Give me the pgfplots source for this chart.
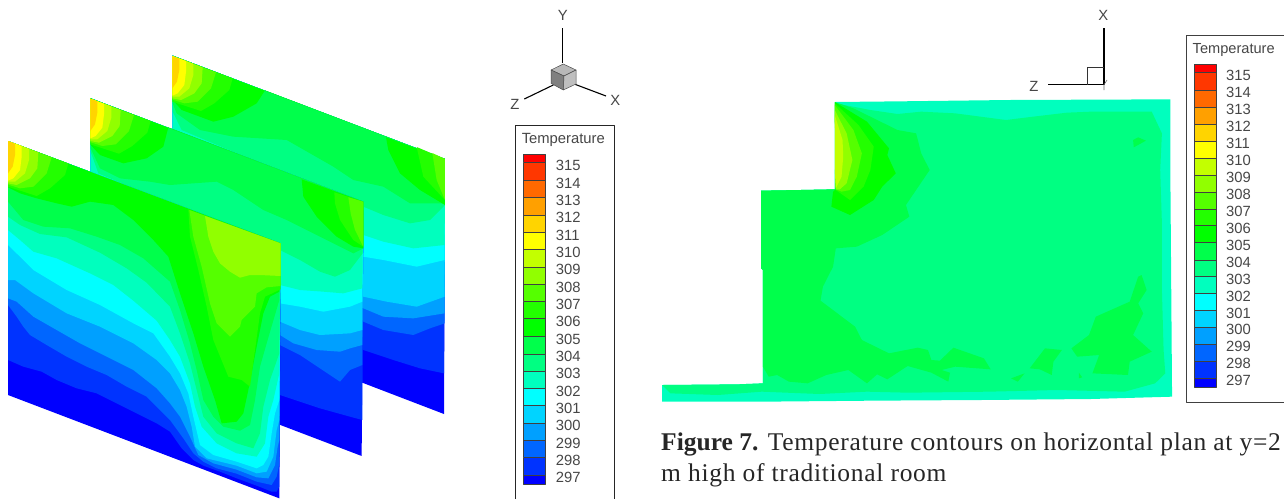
\documentclass[border=0pt]{standalone}
\usepackage{fontspec}
\usepackage{pgfplots}
\pgfplotsset{compat=1.18}
\setmainfont{Liberation Sans}
\newfontfamily\capfont[LetterSpace=2.75]{Liberation Serif}
\newfontfamily\capb{Liberation Serif}
\definecolor{c297}{RGB}{0,0,255}
\definecolor{c298}{RGB}{0,51,255}
\definecolor{c299}{RGB}{0,102,255}
\definecolor{c300}{RGB}{0,160,255}
\definecolor{c301}{RGB}{0,212,255}
\definecolor{c302}{RGB}{0,255,255}
\definecolor{c303}{RGB}{0,255,190}
\definecolor{c304}{RGB}{0,255,130}
\definecolor{c305}{RGB}{0,255,75}
\definecolor{c306}{RGB}{0,255,0}
\definecolor{c307}{RGB}{35,255,0}
\definecolor{c308}{RGB}{85,255,0}
\definecolor{c309}{RGB}{145,255,0}
\definecolor{c310}{RGB}{195,255,0}
\definecolor{c311}{RGB}{255,255,0}
\definecolor{c312}{RGB}{255,212,0}
\definecolor{c313}{RGB}{255,160,0}
\definecolor{c314}{RGB}{255,105,0}
\definecolor{c315}{RGB}{255,55,0}
\definecolor{c316}{RGB}{255,0,0}
\definecolor{txt}{RGB}{70,70,70}
\pgfplotsset{
  zf/.style={x filter/.expression={x/3},y filter/.expression={130+y/3}},
  zm/.style={x filter/.expression={(x+247)/3},y filter/.expression={(y+143+120)/3}},
  zr/.style={x filter/.expression={(x+493)/3},y filter/.expression={(y+15+120)/3}},
  zo/.style={x filter/.expression={x/3},y filter/.expression={40+y/3}},
  zt/.style={x filter/.expression={650+x*0.339},y filter/.expression={90+y/3}},
}
\newcommand\FZ[2]{\addplot[fill=#1,draw=none,zf] coordinates {#2(842,340)(24,33)};}
\newcommand\FP[2]{\addplot[fill=#1,draw=none,zf] coordinates {#2};}
\newcommand\MZ[2]{\addplot[fill=#1,draw=none,zo] coordinates {#2(1090,485)(272,175)};}
\newcommand\RZ[2]{\addplot[fill=#1,draw=none,zo] coordinates {#2(1335,357)(518,47)};}
\newcommand\OP[2]{\addplot[fill=#1,draw=none,zo] coordinates {#2};}
\newcommand\TP[2]{\addplot[fill=#1,draw=none,zt] coordinates {#2};}
\newcommand\HOT[1]{%
 \addplot[fill=c307,draw=none,#1] coordinates {(24,170)(30,172)(70,185)(110,198)(150,175)(195,135)(205,100)(24,33)};
 \addplot[fill=c308,draw=none,#1] coordinates {(24,163)(28,165)(60,175)(100,170)(140,130)(155,82)(24,33)};
 \addplot[fill=c309,draw=none,#1] coordinates {(24,160)(50,165)(90,145)(112,115)(115,67)(24,33)};
 \addplot[fill=c310,draw=none,#1] coordinates {(24,155)(45,155)(75,130)(87,90)(87,56)(24,33)};
 \addplot[fill=c311,draw=none,#1] coordinates {(24,152)(40,145)(60,120)(65,80)(65,48)(24,33)};
 \addplot[fill=c312,draw=none,#1] coordinates {(24,130)(38,110)(45,75)(45,41)(24,33)};
}
\newcommand\cellL[3]{\addplot[fill=#1,draw=black!75,line width=0.6pt] coordinates {(523.7,#2)(545.7,#2)(545.7,#3)(523.7,#3)(523.7,#2)};}
\newcommand\cellR[3]{\addplot[fill=#1,draw=black!75,line width=0.6pt] coordinates {(1194.3,#2)(1216,#2)(1216,#3)(1194.3,#3)(1194.3,#2)};}
\newcommand\lab[3]{\node[anchor=west,inner sep=0pt,text=txt,font=\fontsize{14.8}{16}\selectfont] at (axis cs:#1,#2) {#3};}
\newcommand\axl[3]{\node[inner sep=0pt,text=txt,font=\fontsize{14.8}{16}\selectfont] at (axis cs:#1,#2) {#3};}
\begin{document}
\begin{tikzpicture}
\path[use as bounding box] (0,0) rectangle (1284pt,499pt);
\begin{axis}[at={(0,0)},anchor=south west,scale only axis,width=1284pt,height=499pt,
  xmin=0,xmax=1284,ymin=0,ymax=499,y dir=reverse,hide axis,clip=true,no markers,
  every axis plot/.append style={forget plot,line join=round}]
%%% REAR PANEL
\OP{c297}{(518,47)(1335,357)(1332,1122)(518,810)}
\RZ{c298}{(518,640)(1090,930)(1180,960)(1260,985)(1332,1000)}
\RZ{c299}{(518,560)(1090,845)(1150,870)(1240,885)(1290,865)(1334,850)}
\RZ{c300}{(518,520)(1090,805)(1150,830)(1240,835)(1334,820)}
\RZ{c301}{(518,480)(1090,770)(1160,785)(1250,800)(1334,770)}
\RZ{c302}{(518,380)(1090,650)(1150,660)(1250,680)(1334,660)}
\RZ{c303}{(518,300)(1090,585)(1150,605)(1240,625)(1334,615)}
\RZ{c304}{(518,215)(545,270)(1090,500)(1150,525)(1230,550)(1290,540)(1335,495)}
\RZ{c305}{(518,190)(530,220)(600,270)(700,290)(860,300)(930,340)(1000,380)(1060,420)(1150,440)(1230,490)(1335,490)}
\RZ{c306}{(518,180)(545,210)(640,245)(700,230)(770,190)(795,151)}
\OP{c306}{(1158,292)(1165,330)(1200,400)(1260,450)(1335,495)(1335,357)}
\OP{c307}{(1250,321)(1270,410)(1335,480)(1335,357)}
\OP{c308}{(1297,339)(1310,420)(1335,480)(1335,357)}
\HOT{zr}
%%% MIDDLE PANEL
\OP{c297}{(272,175)(1090,485)(1085,1248)(272,938)}
\MZ{c298}{(272,800)(840,1065)(900,1085)(960,1105)(1050,1130)(1087,1140)}
\MZ{c299}{(272,700)(840,915)(900,945)(960,985)(1020,1025)(1050,990)(1087,975)}
\MZ{c300}{(272,650)(840,885)(880,910)(950,930)(1020,935)(1050,925)(1087,915)}
\MZ{c301}{(272,600)(840,845)(900,870)(960,885)(1050,880)(1087,870)}
\MZ{c302}{(272,520)(840,790)(900,800)(970,815)(1050,800)(1087,785)}
\MZ{c303}{(272,480)(840,735)(900,750)(970,755)(1030,760)(1087,745)}
\MZ{c304}{(272,335)(295,400)(840,630)(900,660)(960,695)(1005,710)(1050,690)(1088,640)}
\MZ{c305}{(272,325)(300,385)(360,415)(450,425)(510,435)(650,425)(700,450)(790,510)(860,540)(960,590)(1010,615)(1060,640)(1090,625)}
\MZ{c306}{(272,315)(300,345)(370,370)(440,355)(490,320)(505,262)}
\OP{c306}{(905,418)(910,470)(950,530)(1010,590)(1060,620)(1090,625)(1090,485)}
\OP{c307}{(1003,457)(1005,490)(1020,540)(1060,600)(1090,620)(1090,485)}
\OP{c308}{(1045,472)(1052,520)(1065,570)(1090,620)(1090,485)}
\HOT{zm}
%%% FRONT PANEL
\FP{c297}{(24,33)(842,340)(838,1105)(24,795)}
\FZ{c298}{(24,690)(70,710)(125,725)(170,750)(230,775)(290,790)(350,820)(410,850)(470,880)(510,905)(545,955)(580,990)(610,1007)(660,1025)(710,1045)(770,1067)(815,1085)(830,1085)(838,1070)}
\FZ{c299}{(24,525)(50,560)(70,590)(90,615)(140,645)(200,680)(260,710)(320,735)(380,770)(440,800)(470,830)(510,870)(550,925)(580,970)(610,995)(650,1015)(710,1031)(770,1055)(815,1065)(830,1040)(838,1000)}
\FZ{c300}{(24,505)(50,515)(100,560)(170,600)(240,640)(320,680)(400,720)(470,775)(510,820)(540,860)(570,920)(595,975)(640,1000)(710,1019)(770,1042)(805,1045)(825,1005)(833,950)(838,930)}
\FZ{c301}{(24,450)(45,450)(100,490)(200,550)(300,590)(400,640)(470,690)(510,730)(540,780)(560,830)(575,890)(585,950)(620,985)(710,1007)(770,1030)(800,1025)(820,980)(830,900)(838,870)}
\FZ{c302}{(24,345)(60,380)(100,420)(200,480)(300,525)(400,580)(460,610)(510,680)(540,730)(565,790)(580,860)(600,945)(640,975)(710,995)(770,1015)(790,1005)(805,980)(815,910)(825,850)(838,810)}
\FZ{c303}{(24,300)(60,330)(100,365)(170,385)(270,430)(340,465)(400,512)(470,572)(510,630)(540,680)(570,760)(585,830)(605,890)(650,940)(710,970)(770,980)(795,940)(805,860)(820,810)(838,730)}
\FZ{c304}{(24,260)(60,285)(120,312)(200,322)(300,368)(380,415)(440,458)(510,530)(540,610)(570,700)(590,780)(610,860)(650,910)(710,940)(760,955)(780,910)(790,830)(810,750)(838,670)}
\FZ{c305}{(24,215)(70,270)(130,290)(210,295)(290,320)(360,345)(430,385)(510,455)(540,540)(570,640)(590,720)(610,810)(640,860)(670,890)(720,902)(750,885)(765,810)(780,710)(800,640)(838,510)}
\FZ{c306}{(24,172)(60,190)(110,205)(170,220)(215,230)(270,215)(340,225)(400,270)(460,330)(505,380)(540,490)(580,610)(610,710)(645,810)(665,880)(710,875)(730,850)(745,780)(770,650)(790,550)(810,500)(838,485)}
\FP{c307}{(565,238)(570,320)(595,420)(620,530)(640,630)(685,740)(725,750)(750,770)(765,660)(780,550)(795,500)(842,478)(842,340)}
\FP{c308}{(568,240)(580,320)(605,410)(630,520)(650,580)(690,620)(720,590)(725,570)(765,530)(770,490)(800,472)(842,468)(842,340)}
\FP{c309}{(615,258)(625,320)(640,365)(660,400)(690,425)(720,443)(750,435)(780,435)(842,438)(842,340)}
\HOT{zf}
%%% RIGHT PANEL
\TP{c303}{(545,36)(738,34)(1060,30)(1535,28)(1535,260)(1540,920)(1300,927)(975,930)(655,932)(330,935)(36,935)(36,885)(258,883)(333,880)(333,540)(328,535)(328,302)(445,300)(545,298)}
\TP{c304}{(548,40)(650,60)(730,72)(800,65)(900,70)(1050,90)(1130,80)(1230,68)(1300,65)(1480,65)(1510,130)(1505,240)(1510,400)(1510,600)(1515,780)(1520,850)(1490,880)(1400,905)(1200,900)(1000,905)(760,908)(640,905)(500,912)(330,905)(200,915)(60,910)(36,885)(258,883)(333,880)(333,540)(328,535)(328,302)(445,300)(545,298)}
\TP{c305}{(545,36)(600,55)(730,120)(785,130)(800,190)(825,240)(755,345)(765,380)(685,435)(610,470)(548,475)(540,530)(510,590)(503,632)(605,710)(625,750)(705,790)(790,773)(820,780)(830,810)(855,812)(895,773)(985,805)(1005,838)(900,830)(860,840)(885,848)(880,875)(830,848)(760,828)(700,868)(670,853)(640,880)(585,840)(520,855)(465,880)(410,875)(375,855)(350,860)(333,830)(333,540)(328,535)(328,302)(445,300)(545,298)}
\TP{c305}{(1450,555)(1465,600)(1440,640)(1455,670)(1425,735)(1480,785)(1415,815)(1410,855)(1305,850)(1325,795)(1260,800)(1243,775)(1295,735)(1315,680)(1415,635)(1440,560)}
\TP{c305}{(1425,150)(1440,142)(1463,152)(1427,172)}
\TP{c305}{(1120,835)(1165,775)(1215,780)(1190,815)(1185,855)(1150,838)}
\TP{c305}{(1065,865)(1105,850)(1085,875)}
\TP{c305}{(1265,848)(1275,862)(1265,865)}
\TP{c306}{(545,36)(640,95)(705,175)(700,195)(725,250)(685,290)(660,330)(590,375)(535,350)(540,305)(548,298)}
\TP{c307}{(545,40)(615,105)(660,170)(650,240)(630,290)(590,330)(548,300)}
\TP{c308}{(545,45)(600,120)(625,190)(610,260)(590,300)(565,305)(548,298)}
\TP{c309}{(545,60)(580,130)(597,210)(580,280)(560,298)(548,298)}
\TP{c310}{(545,75)(568,150)(570,200)(565,260)(548,295)(545,240)}
%%% LEFT TRIAD
\addplot[draw=black,line width=1.1pt] coordinates {(562.7,28)(562.7,63)};
\addplot[draw=black,line width=1.1pt] coordinates {(524.3,99)(553.3,85)};
\addplot[draw=black,line width=1.1pt] coordinates {(606,96)(575,84.3)};
\addplot[fill=black!28,draw=black!70,line width=0.5pt] coordinates {(551,70)(563.3,64)(576,70)(564,76)(551,70)};
\addplot[fill=black!50,draw=black!70,line width=0.5pt] coordinates {(551,70)(564,76)(563.3,90)(551,83.3)(551,70)};
\addplot[fill=black!25,draw=black!70,line width=0.5pt] coordinates {(564,76)(576,70)(576,84)(563.3,90)(564,76)};
\axl{562.7}{15.7}{Y}
\axl{515}{104}{Z}
\axl{615.3}{100.7}{X}
%%% LEFT LEGEND
\addplot[draw=black!85,line width=0.7pt] coordinates {(515.7,499)(515.7,125.7)(614.3,125.7)(614.3,499)};
\node[inner sep=0pt,text=txt,font=\fontsize{14.8}{16}\selectfont] at (axis cs:563.3,140) {Temperature};
\cellL{c316}{154.3}{162.7}
\cellL{c315}{162.7}{180.3}
\cellL{c314}{180.3}{197.3}
\cellL{c313}{197.3}{215}
\cellL{c312}{215}{232}
\cellL{c311}{232}{249.3}
\cellL{c310}{249.3}{267.3}
\cellL{c309}{267.3}{284.3}
\cellL{c308}{284.3}{301.7}
\cellL{c307}{301.7}{318.7}
\cellL{c306}{318.7}{336.3}
\cellL{c305}{336.3}{354}
\cellL{c304}{354}{371}
\cellL{c303}{371}{388.3}
\cellL{c302}{388.3}{405.3}
\cellL{c301}{405.3}{423.3}
\cellL{c300}{423.3}{440.3}
\cellL{c299}{440.3}{457.7}
\cellL{c298}{457.7}{475}
\cellL{c297}{475}{484}
\lab{555.7}{165.7}{315}\lab{555.7}{183}{314}\lab{555.7}{200.4}{313}\lab{555.7}{217.7}{312}
\lab{555.7}{235}{311}\lab{555.7}{252.4}{310}\lab{555.7}{269.7}{309}\lab{555.7}{287}{308}
\lab{555.7}{304.4}{307}\lab{555.7}{321.7}{306}\lab{555.7}{339}{305}\lab{555.7}{356.4}{304}
\lab{555.7}{373.7}{303}\lab{555.7}{391}{302}\lab{555.7}{408.4}{301}\lab{555.7}{425.7}{300}
\lab{555.7}{443}{299}\lab{555.7}{460.4}{298}\lab{555.7}{477.7}{297}
%%% RIGHT TRIAD
\addplot[draw=black,line width=1.1pt] coordinates {(1104,28.3)(1104,84.7)(1048.3,84.7)};
\addplot[draw=black!80,line width=0.6pt] coordinates {(1087.3,84.7)(1087.3,67.7)(1104,67.7)};
\addplot[draw=black!60,line width=0.6pt] coordinates {(1104,90)(1104,84.7)(1107,80)};
\axl{1103.3}{15.7}{X}
\axl{1034}{86.7}{Z}
%%% RIGHT LEGEND
\addplot[draw=black!75,line width=0.7pt] coordinates {(1284,35.7)(1186.7,35.7)(1186.7,402.3)(1284,402.3)};
\node[inner sep=0pt,text=txt,font=\fontsize{14.6}{16}\selectfont] at (axis cs:1233.7,50) {Temperature};
\cellR{c316}{64.3}{72.7}
\cellR{c315}{72.7}{90}
\cellR{c314}{90}{107}
\cellR{c313}{107}{124}
\cellR{c312}{124}{141}
\cellR{c311}{141}{158}
\cellR{c310}{158}{175}
\cellR{c309}{175}{192}
\cellR{c308}{192}{209}
\cellR{c307}{209}{225.7}
\cellR{c306}{225.7}{242.7}
\cellR{c305}{242.7}{260}
\cellR{c304}{260}{276.7}
\cellR{c303}{276.7}{293.7}
\cellR{c302}{293.7}{310.7}
\cellR{c301}{310.7}{327.7}
\cellR{c300}{327.7}{344.7}
\cellR{c299}{344.7}{361.7}
\cellR{c298}{361.7}{378.3}
\cellR{c297}{378.3}{387}
\lab{1226}{75.7}{315}\lab{1226}{92.6}{314}\lab{1226}{109.6}{313}\lab{1226}{126.5}{312}
\lab{1226}{143.5}{311}\lab{1226}{160.4}{310}\lab{1226}{177.4}{309}\lab{1226}{194.3}{308}
\lab{1226}{211.2}{307}\lab{1226}{228.2}{306}\lab{1226}{245.1}{305}\lab{1226}{262.1}{304}
\lab{1226}{279}{303}\lab{1226}{296}{302}\lab{1226}{312.9}{301}\lab{1226}{329.8}{300}
\lab{1226}{346.8}{299}\lab{1226}{363.7}{298}\lab{1226}{380.7}{297}
%%% CAPTION
\node[anchor=base west,inner sep=0pt,text=black!85,font=\capfont\fontsize{25.5}{30}\selectfont] at (axis cs:661,450) {{\capb\bfseries Figure 7.} Temperature contours on horizontal plan at y=2};
\node[anchor=base west,inner sep=0pt,text=black!85,font=\capfont\fontsize{25.5}{30}\selectfont] at (axis cs:661,481) {m high of traditional room};
\end{axis}
\end{tikzpicture}
\end{document}
